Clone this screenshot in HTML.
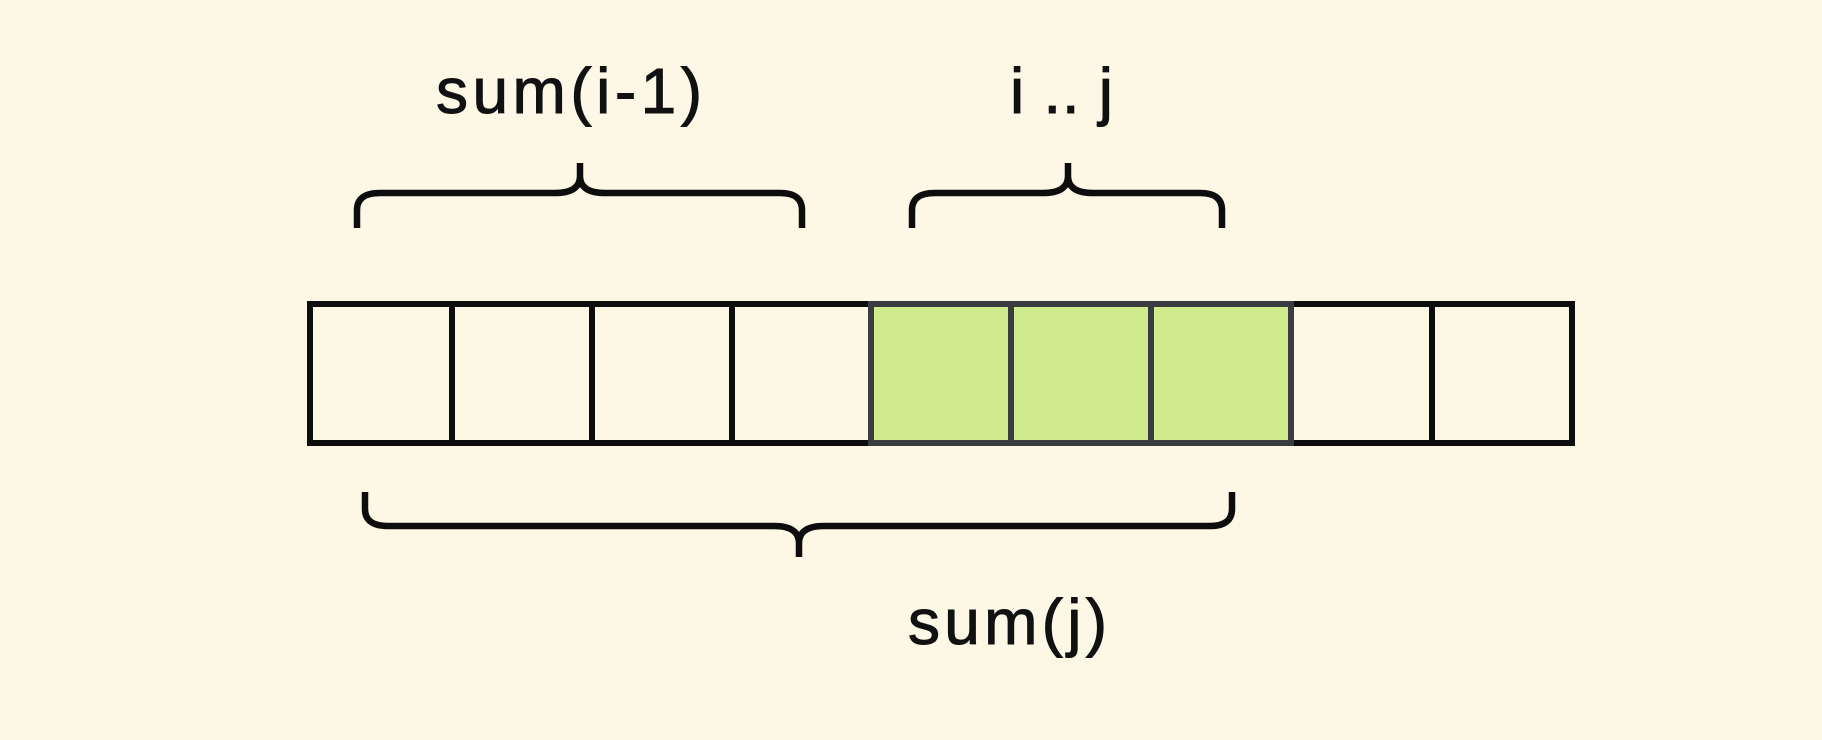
<!DOCTYPE html>
<html><head><meta charset="utf-8"><style>
html,body{margin:0;padding:0;background:#fdf8e6;}
svg{display:block}
text{font-family:"Liberation Sans","DejaVu Sans",sans-serif;fill:#111;stroke:#111;stroke-width:1px;}
</style></head><body>
<svg width="1822" height="740" viewBox="0 0 1822 740" xmlns="http://www.w3.org/2000/svg">
<rect width="1822" height="740" fill="#fdf8e6"/>
<g stroke="#0d0d0d" stroke-width="6" fill="none">
<rect x="310" y="304" width="1262" height="139"/>
</g>
<rect x="871" y="304" width="420" height="139" fill="#cfeb8d" stroke="#3a3d40" stroke-width="6"/>
<g stroke="#3a3d40" stroke-width="6">
<line x1="1011" y1="304" x2="1011" y2="443"/>
<line x1="1151" y1="304" x2="1151" y2="443"/>
</g>
<g stroke="#0d0d0d" stroke-width="6">
<line x1="452" y1="304" x2="452" y2="443"/>
<line x1="592" y1="304" x2="592" y2="443"/>
<line x1="732" y1="304" x2="732" y2="443"/>
<line x1="1432" y1="304" x2="1432" y2="443"/>
</g>
<g stroke="#0d0d0d" stroke-width="6.5" fill="none" stroke-linecap="butt">
<path d="M357 228 V210 Q357 193 380 193 H555 Q580 193 580 176 V163 M580 176 Q580 193 605 193 H780 Q802 193 802 210 V228"/>
<path d="M912 228 V210 Q912 193 935 193 H1043 Q1068 193 1068 176 V163 M1068 176 Q1068 193 1093 193 H1200 Q1222 193 1222 210 V228"/>
<path d="M365 492 V509 Q365 526 388 526 H774 Q799 526 799 543 V557 M799 543 Q799 526 824 526 H1210 Q1232 526 1232 509 V492"/>
</g>
<text x="436" y="113" font-size="64" textLength="266" lengthAdjust="spacing">sum(i-1)</text>
<text x="1010" y="113" font-size="64" textLength="103" lengthAdjust="spacing">i .. j</text>
<text x="908" y="644" font-size="64" textLength="199" lengthAdjust="spacing">sum(j)</text>
</svg>
</body></html>
